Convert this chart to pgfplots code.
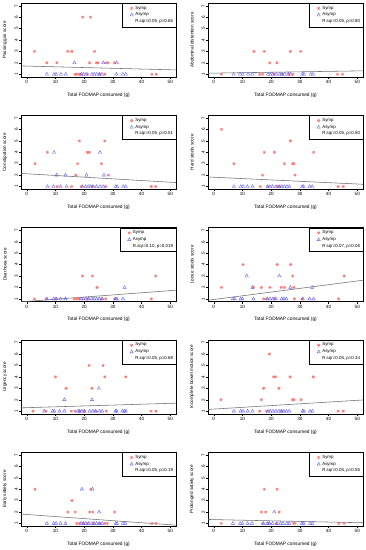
\documentclass[border=0pt]{standalone}
\usepackage{pgfplots}
\pgfplotsset{compat=1.18}
\usepackage{fontspec}
\setmainfont{Liberation Sans}
\definecolor{sympc}{RGB}{255,120,120}
\definecolor{asympc}{RGB}{100,100,255}
\definecolor{regc}{RGB}{110,110,110}
\pgfdeclareplotmark{rast}{%
 \pgfpathmoveto{\pgfqpoint{-\pgfplotmarksize}{0pt}}\pgfpathlineto{\pgfqpoint{\pgfplotmarksize}{0pt}}%
 \pgfpathmoveto{\pgfqpoint{0pt}{-\pgfplotmarksize}}\pgfpathlineto{\pgfqpoint{0pt}{\pgfplotmarksize}}%
 \pgfpathmoveto{\pgfqpoint{-0.707\pgfplotmarksize}{-0.707\pgfplotmarksize}}\pgfpathlineto{\pgfqpoint{0.707\pgfplotmarksize}{0.707\pgfplotmarksize}}%
 \pgfpathmoveto{\pgfqpoint{-0.707\pgfplotmarksize}{0.707\pgfplotmarksize}}\pgfpathlineto{\pgfqpoint{0.707\pgfplotmarksize}{-0.707\pgfplotmarksize}}%
 \pgfusepathqstroke}
\pgfplotsset{panel/.style={
 scale only axis, width=155pt, height=74pt,
 xmin=-2, xmax=52, ymin=0.76, ymax=7.24,
 xtick={0,10,...,50}, ytick={1,...,7},
 tick pos=left, tick align=outside, major tick length=2pt,
 axis line style={line width=0.4pt, black},
 every tick/.style={black, line width=0.4pt},
 /pgf/number format/assume math mode=true,
 tick label style={font=\fontsize{4.6}{5}\selectfont, inner sep=1pt},
 yticklabel style={rotate=90, anchor=south},
 xlabel={Total FODMAP consumed (g)},
 xlabel style={font=\fontsize{4.8}{5.5}\selectfont, at={(axis description cs:0.5,-0.243)}, anchor=center},
 ylabel style={font=\fontsize{4.6}{5.5}\selectfont, at={(axis description cs:-0.103,0.5)}, anchor=center},
 legend style={at={(1,1)}, anchor=north east, draw=black, line width=0.4pt,
   font=\fontsize{4.4}{5}\selectfont, inner sep=0.8pt, row sep=-1.8pt,
   cells={anchor=west}},
 legend cell align=left,
}}
\newcommand{\panel}[7]{%
\begin{axis}[panel, at={(#1pt,#2pt)}, anchor=south west, ylabel={#3}]
\addplot[only marks, mark=rast, mark size=1.6pt, color=sympc, line width=0.4pt] coordinates {#4};
\addlegendentry{Symp}
\addplot[only marks, mark=triangle, mark size=1.9pt, color=asympc, line width=0.4pt] coordinates {#5};
\addlegendentry{Asymp}
\addlegendimage{empty legend}
\addlegendentry{#7}
\addplot[regc, line width=0.55pt, forget plot] coordinates {#6};
\end{axis}}
\begin{document}
\begin{tikzpicture}
\useasboundingbox[fill=white] (0,0) rectangle (365pt,550pt);
% Row 1
\panel{21}{473}{Passing gas score}
{(2.7,3)(7,2)(10.5,2)(14.3,3)(15.7,3)(19.5,6)(22.2,6)(21.9,2)(23.6,3)(24.2,2)(24.8,2)(27.7,2)(28.3,2)(30.6,2)
 (16.8,1)(17.4,1)(18.3,1)(19,1)(21.2,1)(25.5,1)(27.2,1)(43.6,1)(45.1,1)}
{(16.6,2)(26.7,2)(31.4,2)
 (7,1)(9.5,1)(10.2,1)(11.9,1)(13.6,1)(19,1)(19.8,1)(20.7,1)(22.7,1)(23.5,1)(24.4,1)(25.3,1)(26.2,1)(31.2,1)(33.5,1)(34.5,1)}
{(-2,1.73)(52,1.38)}
{R.sqr=0.05, p=0.65}
\panel{208}{473}{Abdominal distention score}
{(14,3)(17.6,3)(19.5,2)(22,2)(26.7,3)(30.3,3)
 (2.6,1)(16,1)(17,1)(21,1)(24,1)(26.2,1)(27.6,1)(43.1,1)(44.9,1)}
{(6.9,1)(9.2,1)(10.1,1)(12,1)(13.4,1)(18.9,1)(19.7,1)(20.6,1)(21.8,1)(23,1)(23.7,1)(24.7,1)(26,1)(26.8,1)(30.9,1)(31.4,1)(33.8,1)(34.6,1)}
{(-2,1.09)(52,1.30)}
{R.sqr=0.05, p=0.80}
% Row 2
\panel{21}{360.7}{Constipation score}
{(2.9,3)(7.2,4)(17.1,2)(17.7,3)(18.3,5)(21.1,4)(21.8,4)(26,3)(27.2,5)(28.4,2)(34.7,6)
 (10.6,1)(15.6,1)(19,1)(22.8,1)(27.5,1)(43.4,1)(44.9,1)}
{(9.5,4)(10.4,2)(13.5,2)(20.8,2)(25.5,4)(26.9,2)
 (7.2,1)(9.3,1)(11.8,1)(13.9,1)(19.4,1)(20.5,1)(21.4,1)(22.2,1)(23.1,1)(24.3,1)(25.5,1)(26.6,1)(31,1)(31.5,1)(33.6,1)(34.5,1)}
{(-2,2.15)(52,1.35)}
{R.sqr=0.05, p=0.51}
\panel{208}{360.7}{Hard stools score}
{(2.7,6)(7,3)(17,2)(17.6,4)(21.1,4)(24.6,3)(26.7,5)(27.5,3)(27.9,3)(28.3,2)(34.8,4)
 (16.2,1)(18.9,1)(22.2,1)(23,1)(43.3,1)(45.1,1)}
{(7,1)(9.4,1)(10.2,1)(11.7,1)(13.5,1)(18.7,1)(19.6,1)(20.5,1)(21.7,1)(22.8,1)(23.7,1)(24.6,1)(25.5,1)(26.3,1)(30.8,1)(31.3,1)(33.4,1)(34.3,1)}
{(-2,1.84)(52,1.2)}
{R.sqr=0.05, p=0.50}
% Row 3
\panel{21}{248.4}{Diarrhoea score}
{(19.4,3)(22.9,3)(24.5,2)(44.9,3)
 (2.7,1)(6.9,1)(10.4,1)(16.5,1)(17.4,1)(18.3,1)(21.2,1)(26,1)(27.5,1)(30.6,1)(43.4,1)}
{(34.1,2)
 (7,1)(9.4,1)(10.2,1)(11.8,1)(13.5,1)(18.9,1)(19.7,1)(20.6,1)(21.6,1)(22.7,1)(23.5,1)(24.4,1)(25.3,1)(26.3,1)(31,1)(31.4,1)(33.5,1)}
{(-2,0.74)(52,1.76)}
{R.sqr=0.10, p=0.019}
\panel{208}{248.4}{Loose stools score}
{(2.7,2)(10.2,4)(13.8,2)(16.6,2)(19.6,2)(22.1,4)(23.5,2)(24.6,2)(26.8,4)(27.5,3)(27.9,2)(45.4,3)
 (17.4,1)(18.3,1)(21.2,1)(28.1,1)(30.8,1)(43.5,1)}
{(11.5,3)(13.5,2)(22.8,3)(26.7,2)(34.3,2)
 (6.7,1)(7.3,1)(9.4,1)(10,1)(13.8,1)(18.7,1)(19.6,1)(20.6,1)(21.6,1)(23.7,1)(24.4,1)(25.3,1)(31,1)(33.4,1)(34.8,1)}
{(-2,0.88)(52,2.63)}
{R.sqr=0.07, p=0.06}
% Row 4
\panel{21}{136.1}{Urgency score}
{(10,4)(13.7,3)(21.7,5)(22.7,3)(26.6,5)(27.2,4)(34.5,4)
 (2.2,1)(6.7,1)(15.5,1)(16.8,1)(18.4,1)(20.1,1)(24.2,1)(27.7,1)(43.3,1)(45,1)}
{(13.1,2)(22.7,2)(25.1,3)
 (6.1,1)(9,1)(9.6,1)(11.4,1)(13.1,1)(17.8,1)(18.4,1)(19.2,1)(20.1,1)(21.9,1)(23,1)(23.9,1)(25.4,1)(26.3,1)(30.9,1)(31.3,1)(33.3,1)(34,1)(34.5,1)}
{(-2,1.29)(52,1.70)}
{R.sqr=0.05, p=0.68}
\panel{208}{136.1}{Incomplete bowel motion score}
{(2.5,2)(16.6,2)(17.4,3)(19.4,6)(20.9,4)(21.5,4)(22.7,3)(26.6,4)(27.4,2)(28,2)(30.4,2)(34.7,4)
 (16,1)(18.4,1)(23.8,1)(43.3,1)(45.1,1)}
{(7,1)(9.4,1)(10.2,1)(11.8,1)(13.5,1)(18.9,1)(19.7,1)(20.6,1)(21.6,1)(22.7,1)(23.5,1)(24.4,1)(25.3,1)(26.3,1)(31,1)(31.4,1)(33.5,1)(34.4,1)}
{(-2,1.15)(52,1.98)}
{R.sqr=0.05, p=0.34}
% Row 5
\panel{21}{23.8}{Early satiety score}
{(2.9,4)(14.3,2)(15.7,3)(16.9,2)(21.9,2)(22.3,4)(23,2)(30.6,2)
 (17.4,1)(18.3,1)(19.8,1)(21.2,1)(23.3,1)(25.5,1)(27.2,1)(28.1,1)(43.6,1)(45.1,1)}
{(19.2,4)(22.9,4)(25.2,2)
 (7,1)(9.4,1)(10.2,1)(11.8,1)(13.5,1)(18.9,1)(19.7,1)(20.6,1)(21.6,1)(22.7,1)(23.5,1)(24.4,1)(25.3,1)(26.3,1)(31,1)(31.4,1)(33.5,1)(34.4,1)}
{(-2,1.82)(52,0.85)}
{R.sqr=0.05, p=0.19}
\panel{208}{23.8}{Prolonged satiety score}
{(16.6,2)(17.6,4)(18.1,2)(22.1,4)(22.8,2)
 (2.6,1)(17,1)(19,1)(21.9,1)(27.7,1)(28.3,1)(43.6,1)(45.4,1)}
{(21.1,2)
 (6.7,1)(9.2,1)(10,1)(11.8,1)(13.3,1)(17.3,1)(18.6,1)(19.4,1)(20.5,1)(22,1)(23.3,1)(24.1,1)(25.5,1)(26.3,1)(30.7,1)(31.3,1)(33.6,1)(34.4,1)}
{(-2,1.35)(52,1.06)}
{R.sqr=0.05, p=0.55}
\end{tikzpicture}
\end{document}
